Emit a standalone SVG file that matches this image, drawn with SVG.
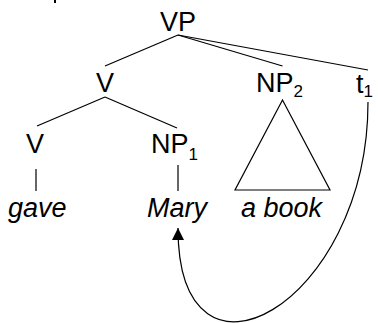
<svg xmlns="http://www.w3.org/2000/svg" width="378" height="323" viewBox="0 0 378 323">
<style>
.lbl{font-family:"Liberation Sans",Arial,sans-serif;font-size:27px;fill:#000}
.word{font-family:"Liberation Sans",Arial,sans-serif;font-size:27px;font-style:italic;fill:#000}
.sub{font-size:17px}
.edge{stroke:#000;stroke-width:1.2;fill:none}
</style>
<defs>
<marker id="arr" markerUnits="userSpaceOnUse" markerWidth="12" markerHeight="12" viewBox="0 0 10 10" refX="10" refY="5" orient="auto">
<path d="M0,0 L10,5 L0,10 Z" fill="#000"/>
</marker>
</defs>
<rect x="54" y="0" width="2" height="3" fill="#000"/>
<g id="connectors">
<line class="edge" x1="178" y1="35" x2="105" y2="66"/>
<line class="edge" x1="178" y1="35" x2="282.5" y2="66"/>
<line class="edge" x1="178" y1="35" x2="368" y2="70"/>
<line class="edge" x1="105" y1="97" x2="37" y2="126"/>
<line class="edge" x1="105" y1="97" x2="177" y2="128"/>
<line class="edge" x1="36" y1="169" x2="36" y2="191"/>
<line class="edge" x1="178" y1="165" x2="178" y2="191"/>
<path class="edge" d="M368,102 C368,305 178,410 178,228" marker-end="url(#arr)"/>
</g>
<g id="VP"><text class="lbl" x="160" y="30.5">VP</text></g>
<g id="V1"><text class="lbl" x="96" y="91.7">V</text></g>
<g id="NP2"><text class="lbl" x="256" y="91.7">NP<tspan class="sub" dy="5.6">2</tspan></text>
<polygon class="edge" points="282.5,100 235,190 330,190"/></g>
<g id="t1"><text class="lbl" x="356" y="92.7">t<tspan class="sub" dy="4">1</tspan></text></g>
<g id="V2"><text class="lbl" x="26" y="153">V</text></g>
<g id="NP1"><text class="lbl" x="151" y="153">NP<tspan class="sub" dy="6.5">1</tspan></text></g>
<g id="gave"><text class="word" x="8" y="216.5">gave</text></g>
<g id="Mary"><text class="word" x="147" y="216.5">Mary</text></g>
<g id="abook"><text class="word" x="241" y="216.5">a book</text></g>
</svg>
